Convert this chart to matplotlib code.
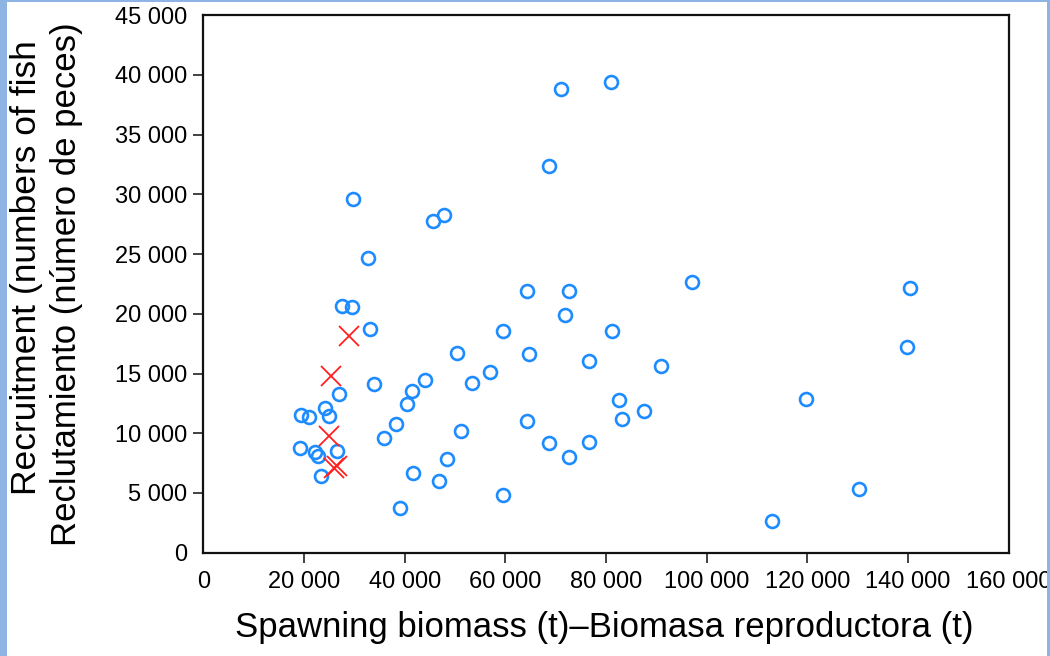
import matplotlib.pyplot as plt
from matplotlib.patches import Rectangle
from matplotlib.ticker import FuncFormatter

plt.rcParams['font.family'] = ['Liberation Sans', 'DejaVu Sans']

# spawning biomass (t) and recruitment (numbers of fish)
biomass = [80960, 71130, 68620, 29720, 45690, 47810, 32700, 97050, 64370, 72720,
           71870, 59480, 81210, 64710, 76640, 90890, 82540, 87570, 83260, 64370,
           68620, 76640, 72720, 59480, 112960, 140450, 139790, 119720, 130310, 27470,
           29520, 33030, 50450, 56950, 53310, 44030, 33900, 41390, 26940, 40390,
           24220, 19380, 21040, 25010, 51130, 38210, 35880, 19120, 22230, 22700,
           26540, 48470, 41710, 46820, 23360, 39130]
recruits = [39420, 38860, 32390, 29600, 27780, 28260, 24710, 22700, 21920, 21920,
            19930, 18590, 18590, 16620, 16080, 15660, 12760, 11840, 11170, 11050,
            9190, 9300, 7990, 4810, 2680, 22170, 17250, 12870, 5330, 20690,
            20600, 18730, 16750, 15160, 14210, 14490, 14100, 13570, 13290, 12480,
            12140, 11560, 11340, 11420, 10220, 10780, 9580, 8770, 8430, 8120,
            8520, 7850, 6670, 6030, 6400, 3740]

# highlighted recent years (red crosses)
biomass_recent = [28990, 25350, 25010, 25940, 26540]
recruits_recent = [18150, 14800, 9800, 7090, 7300]

x_ticks = list(range(0, 160001, 20000))
y_ticks = list(range(0, 45001, 5000))

fig = plt.figure(figsize=(10.5, 6.56), dpi=100)
fig.patch.set_facecolor('white')

# light blue slide border
border = '#8EB4E3'
fig.patches.append(Rectangle((0, 0), 7 / 1050, 1, transform=fig.transFigure,
                             facecolor=border, edgecolor='none'))
fig.patches.append(Rectangle((1047 / 1050, 0), 3 / 1050, 1, transform=fig.transFigure,
                             facecolor=border, edgecolor='none'))
fig.patches.append(Rectangle((0, 1 - 2 / 656), 1, 2 / 656, transform=fig.transFigure,
                             facecolor=border, edgecolor='none'))

ax = fig.add_axes([0.1938, 0.1575, 0.7667, 0.8192])

ax.plot(biomass, recruits, 'o', markersize=9.3, markerfacecolor='none',
        markeredgecolor='#1e8cff', markeredgewidth=1.9, zorder=3)
ax.plot(biomass_recent, recruits_recent, 'x', markersize=15, color='#ff1f1f',
        markeredgewidth=1.3, zorder=4)

ax.set_xlim(0, 160000)
ax.set_ylim(0, 45000)
ax.set_xticks(x_ticks)
ax.set_yticks(y_ticks)
fmt = FuncFormatter(lambda v, p: f'{int(v):,}'.replace(',', ' '))
ax.xaxis.set_major_formatter(fmt)
ax.yaxis.set_major_formatter(fmt)
ax.tick_params(axis='both', labelsize=17, length=7, width=1.2, color='#222222',
               direction='out')
ax.tick_params(axis='y', pad=5)
ax.tick_params(axis='x', pad=6)

# no tick marks on the axis ends
for t in (ax.yaxis.get_major_ticks()[0], ax.yaxis.get_major_ticks()[-1],
          ax.xaxis.get_major_ticks()[0], ax.xaxis.get_major_ticks()[-1]):
    t.tick1line.set_visible(False)

for s in ax.spines.values():
    s.set_linewidth(1.6)
    s.set_color('#111111')

fig.text(604 / 1050, 1 - 628 / 656, 'Spawning biomass (t)\u2013Biomasa reproductora (t)',
         ha='center', va='center', fontsize=25)
fig.text(27 / 1050, 1 - 268 / 656, 'Recruitment (numbers of fish',
         rotation=90, ha='center', va='center', fontsize=25.5)
fig.text(67 / 1050, 1 - 284 / 656, 'Reclutamiento (número de peces)',
         rotation=90, ha='center', va='center', fontsize=25)

fig.savefig('out.png', dpi=100)
